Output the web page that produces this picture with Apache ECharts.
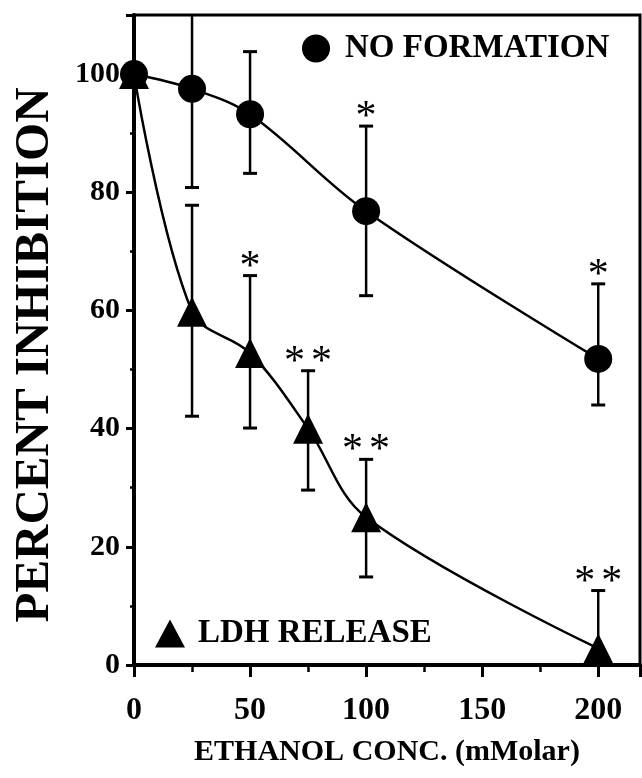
<!DOCTYPE html>
<html>
<head>
<meta charset="utf-8">
<script src="https://cdn.jsdelivr.net/npm/echarts@6/dist/echarts.min.js"></script>
<style>
  html, body { margin: 0; padding: 0; background: #fff; }
  #chart { width: 642px; height: 778px; }
</style>
</head>
<body>
<div id="chart"></div>
<script>
// ethanol concentration (mM)
var noX = [0, 25, 50, 100, 200];
var noVal = [100, 97.5, 93.2, 76.8, 51.8];
var noLow = [null, 80.8, 83.2, 62.5, 44.0];
var noHigh = [null, 115, 103.8, 91.2, 64.5];

var ldhX = [0, 25, 50, 75, 100, 200];
var ldhVal = [100, 59.8, 52.8, 40.0, 25.0, 2.8];
var ldhLow = [null, 42.1, 40.1, 29.6, 14.9, -7];
var ldhHigh = [null, 77.8, 65.9, 49.8, 34.8, 12.6];

// significance marks: [x, value of top of error bar, text]
var starX = [100, 200, 50, 75, 100, 200];
var starY = [91.2, 64.5, 65.9, 49.8, 34.8, 12.6];
var starText = ['*', '*', '*', '**', '**', '**'];

var xTicks = [0, 50, 100, 150, 200];
var yTicks = [0, 20, 40, 60, 80, 100];

var Y_MIN = 0, Y_MAX = 110;
var FONT = '"Liberation Serif", "Times New Roman", serif';

function pairs(xs, vs) {
  return xs.map(function (x, i) { return [x, vs[i]]; });
}
function errData(xs, lo, hi) {
  var out = [];
  xs.forEach(function (x, i) {
    if (lo[i] != null) out.push([x, lo[i], hi[i]]);
  });
  return out;
}

function errItem(params, api) {
  var x = api.value(0), lo = api.value(1), hi = api.value(2);
  var a = api.coord([x, Math.max(lo, Y_MIN)]);
  var b = api.coord([x, Math.min(hi, Y_MAX)]);
  var st = { stroke: '#000', lineWidth: 2.5 };
  var kids = [{ type: 'line', shape: { x1: a[0], y1: a[1], x2: b[0], y2: b[1] }, style: st }];
  var w = 7;
  if (lo >= Y_MIN) kids.push({ type: 'line', shape: { x1: a[0] - w, y1: a[1], x2: a[0] + w, y2: a[1] }, style: { stroke: '#000', lineWidth: 3 } });
  if (hi <= Y_MAX) kids.push({ type: 'line', shape: { x1: b[0] - w, y1: b[1], x2: b[0] + w, y2: b[1] }, style: { stroke: '#000', lineWidth: 3 } });
  return { type: 'group', children: kids };
}

function starItem(params, api) {
  var t = starText[params.dataIndex];
  var p = api.coord([api.value(0), api.value(1)]);
  var kids = [];
  var gap = 27;
  for (var k = 0; k < t.length; k++) {
    var dx = (k - (t.length - 1) / 2) * gap;
    kids.push({
      type: 'text',
      x: p[0] + dx, y: p[1] + 13,
      style: {
        text: '*', fill: '#000',
        font: '42px ' + FONT,
        align: 'center', verticalAlign: 'bottom'
      }
    });
  }
  return { type: 'group', children: kids };
}

var chart = echarts.init(document.getElementById('chart'));
chart.setOption({
  animation: false,
  grid: {
    left: 134, right: 2, top: 15, bottom: 113,
    containLabel: false, outerBoundsMode: 'none',
    show: true, borderColor: '#000', borderWidth: 3
  },
  legend: [
    {
      data: ['NO FORMATION'], left: 302, top: 32, padding: 0,
      icon: 'circle', itemWidth: 28, itemHeight: 28,
      textStyle: { fontFamily: FONT, fontWeight: 'bold', fontSize: 33, color: '#000', padding: [0, 0, 0, 10] }
    },
    {
      data: ['LDH RELEASE'], left: 155, top: 617, padding: 0,
      icon: 'triangle', itemWidth: 30, itemHeight: 28,
      textStyle: { fontFamily: FONT, fontWeight: 'bold', fontSize: 33, color: '#000', padding: [0, 0, 0, 8] }
    }
  ],
  xAxis: {
    type: 'value', min: 0, max: 218, interval: 50,
    name: 'ETHANOL CONC. (mMolar)', nameLocation: 'middle', nameGap: 72,
    nameTextStyle: { fontFamily: FONT, fontWeight: 'bold', fontSize: 30, color: '#000' },
    axisLine: { lineStyle: { color: '#000', width: 4 } },
    axisTick: { length: 12, lineStyle: { color: '#000', width: 3 } },
    minorTick: { show: true, splitNumber: 2, length: 7, lineStyle: { color: '#000', width: 2.5 } },
    splitLine: { show: false },
    axisLabel: {
      margin: 30, fontFamily: FONT, fontWeight: 'bold', fontSize: 32, color: '#000',
      showMaxLabel: false,
      formatter: function (v) { return xTicks.indexOf(v) >= 0 ? String(v) : ''; }
    }
  },
  yAxis: {
    type: 'value', min: Y_MIN, max: Y_MAX, interval: 20,
    name: 'PERCENT INHIBITION', nameLocation: 'middle', nameGap: 74, nameRotate: 90,
    nameTextStyle: { fontFamily: FONT, fontWeight: 'bold', fontSize: 49, color: '#000', padding: [0, 30, 0, 0] },
    axisLine: { show: true, lineStyle: { color: '#000', width: 4 } },
    axisTick: { show: true, length: 8, lineStyle: { color: '#000', width: 3 } },
    minorTick: { show: true, splitNumber: 2, length: 4, lineStyle: { color: '#000', width: 2.5 } },
    splitLine: { show: false },
    axisLabel: {
      margin: 14, fontFamily: FONT, fontWeight: 'bold', fontSize: 30, color: '#000',
      showMaxLabel: false,
      formatter: function (v) { return yTicks.indexOf(v) >= 0 ? String(v) : ''; }
    }
  },
  series: [
    {
      type: 'custom', name: 'errNO', renderItem: errItem, silent: true, z: 1,
      data: errData(noX, noLow, noHigh), encode: { x: 0, y: [1, 2] }
    },
    {
      type: 'custom', name: 'errLDH', renderItem: errItem, silent: true, z: 1,
      data: errData(ldhX, ldhLow, ldhHigh), encode: { x: 0, y: [1, 2] }
    },
    {
      name: 'NO FORMATION', type: 'line', data: pairs(noX, noVal), smooth: 0.35,
      symbol: 'circle', symbolSize: 28, z: 3,
      itemStyle: { color: '#000' }, lineStyle: { color: '#000', width: 2.5 }
    },
    {
      name: 'LDH RELEASE', type: 'line', data: pairs(ldhX, ldhVal), smooth: 0.35,
      symbol: 'triangle', symbolSize: [30, 30], z: 3,
      itemStyle: { color: '#000' }, lineStyle: { color: '#000', width: 2.5 }
    },
    {
      type: 'custom', name: 'stars', renderItem: starItem, silent: true, z: 4,
      data: pairs(starX, starY), encode: { x: 0, y: 1 }
    }
  ]
});
</script>
</body>
</html>
